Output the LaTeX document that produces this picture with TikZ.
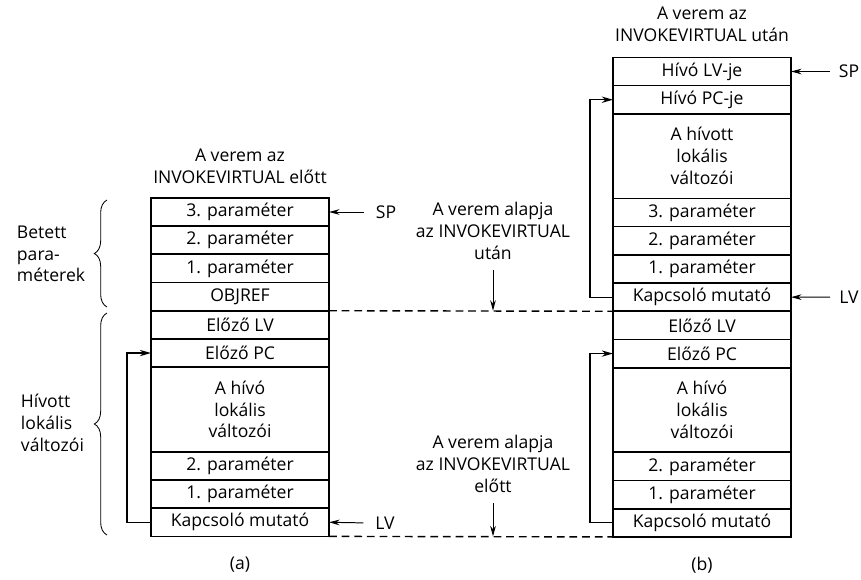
\documentclass[tikz,border=0pt]{standalone}
\usepackage{fontspec}
\setmainfont{Open Sans}
\usetikzlibrary{arrows.meta,positioning,decorations.pathreplacing}

\begin{document}
\begin{tikzpicture}[x=0.025cm,y=-0.025cm]

\tikzset{
  cell/.style={draw=black, line width=1.2pt, minimum width=4.45cm,
               minimum height=0.705cm, inner sep=0pt, outer sep=0pt,
               align=center, font=\fontsize{12.5}{15.5}\selectfont},
  bigcell/.style={cell, minimum height=2.115cm},
  heading/.style={align=center, font=\fontsize{12.5}{15.5}\selectfont},
  side/.style={align=left, anchor=west, font=\fontsize{12.5}{15.5}\selectfont},
  ptr/.style={line width=0.7pt, -{Stealth[length=7.5pt, width=4pt]}},
  link/.style={line width=0.9pt, -{Stealth[length=8pt, width=4.5pt]}},
  base/.style={line width=1pt, dash pattern=on 5.5pt off 3.5pt},
  brace/.style={decorate, decoration={brace, amplitude=9pt}, line width=0.6pt}
}

\useasboundingbox (0,0) rectangle (861,579);

% Stack (a): before the call
\node[heading] (ta) at (240,166) {A verem az\\INVOKEVIRTUAL előtt};
\node[cell] (a1) at (240,212) {3. paraméter};
\node[cell, below=0pt of a1] (a2) {2. paraméter};
\node[cell, below=0pt of a2] (a3) {1. paraméter};
\node[cell, below=0pt of a3] (a4) {OBJREF};
\node[cell, below=0pt of a4] (a5) {Előző LV};
\node[cell, below=0pt of a5] (a6) {Előző PC};
\node[bigcell, below=0pt of a6] (a7) {A hívó\\lokális\\változói};
\node[cell, below=0pt of a7] (a8) {2. paraméter};
\node[cell, below=0pt of a8] (a9) {1. paraméter};
\node[cell, below=0pt of a9] (a10) {Kapcsoló mutató};
\node[heading] (capa) at (240,565) {(a)};

% Stack (b): after the call
\node[heading] (tb) at (702,24) {A verem az\\INVOKEVIRTUAL után};
\node[cell] (b1) at (702,71.5) {Hívó LV-je};
\node[cell, below=0pt of b1] (b2) {Hívó PC-je};
\node[bigcell, below=0pt of b2] (b3) {A hívott\\lokális\\változói};
\node[cell, below=0pt of b3] (b4) {3. paraméter};
\node[cell, below=0pt of b4] (b5) {2. paraméter};
\node[cell, below=0pt of b5] (b6) {1. paraméter};
\node[cell, below=0pt of b6] (b7) {Kapcsoló mutató};
\node[cell, below=0pt of b7] (b8) {Előző LV};
\node[cell, below=0pt of b8] (b9) {Előző PC};
\node[bigcell, below=0pt of b9] (b10) {A hívó\\lokális\\változói};
\node[cell, below=0pt of b10] (b11) {2. paraméter};
\node[cell, below=0pt of b11] (b12) {1. paraméter};
\node[cell, below=0pt of b12] (b13) {Kapcsoló mutató};
\node[heading] (capb) at (702,565) {(b)};

% SP and LV pointers
\node[heading] (spa) at (386,212) {SP};
\node[heading] (lva) at (385,523) {LV};
\node[heading] (spb) at (849,71.5) {SP};
\node[heading] (lvb) at (849,297) {LV};
\draw[ptr, shorten <=5pt] (spa.west) -- (a1.east);
\draw[ptr, shorten <=5pt] (lva.west) -- (a10.east);
\draw[ptr, shorten <=3pt] (spb.west) -- (b1.east);
\draw[ptr, shorten <=3pt] (lvb.west) -- (b7.east);

% Link pointers back to the saved PC
\draw[link] (a10.west) -- ++(-24,0) |- (a6.west);
\draw[link] (b7.west) -- ++(-23,0) |- (b2.west);
\draw[link] (b13.west) -- ++(-23,0) |- (b9.west);

% Stack bases
\draw[base] (a4.south east) -- (b7.south west);
\draw[base] (a10.south east) -- (b13.south west);
\node[heading] (after) at (493,231) {A verem alapja\\az INVOKEVIRTUAL\\után};
\node[heading] (before) at (493,464) {A verem alapja\\az INVOKEVIRTUAL\\előtt};
\draw[ptr, shorten <=4pt] (after.south) -- (after.south |- a4.south);
\draw[ptr, shorten <=4pt] (before.south) -- (before.south |- a10.south);

% Braces
\draw[brace] (107,307) -- (107,200);
\draw[brace] (107,535) -- (107,313);
\node[side] (pushed) at (12,254) {Betett\\para-\\méterek};
\node[side] (locals) at (16,423) {Hívott\\lokális\\változói};

\end{tikzpicture}
\end{document}
